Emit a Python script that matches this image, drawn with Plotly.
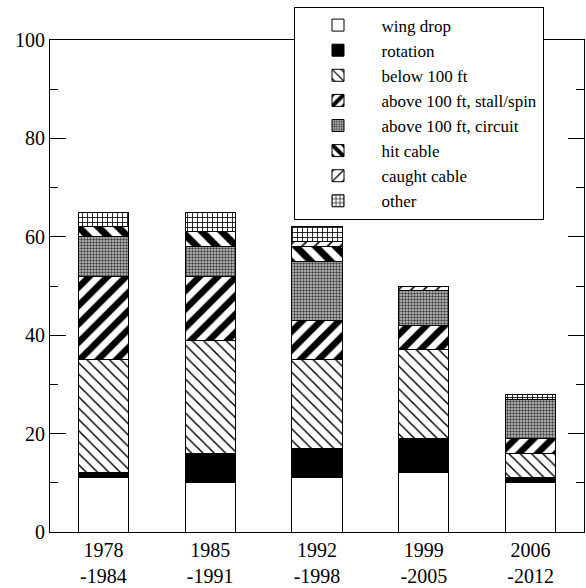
import plotly.graph_objects as go

# Accident counts by period and cause category (stacked)
periods = ["1978<br>-1984", "1985<br>-1991", "1992<br>-1998", "1999<br>-2005", "2006<br>-2012"]

wing_drop = [11, 10, 11, 12, 10]
rotation = [1, 6, 6, 7, 1]
below_100ft = [23, 23, 18, 18, 5]
above_100ft_stall = [17, 13, 8, 5, 3]
above_100ft_circuit = [8, 6, 12, 7, 8]
hit_cable = [2, 3, 3, 0, 0]
caught_cable = [0, 0, 1, 1, 0]
other = [3, 4, 3, 0, 1]


def hatch(shape, size, solidity, fg="black", bg="white"):
    return dict(color=bg, pattern=dict(shape=shape, fgcolor=fg, bgcolor=bg, size=size,
                                       solidity=solidity, fgopacity=1, fillmode="replace"))


series = [
    ("wing drop", wing_drop, dict(color="white")),
    ("rotation", rotation, dict(color="black")),
    ("below 100 ft", below_100ft, hatch("\\", 8, 0.18)),
    ("above 100 ft, stall/spin", above_100ft_stall, hatch("/", 13, 0.5)),
    ("above 100 ft, circuit", above_100ft_circuit, hatch(".", 3, 0.5, fg="#404040", bg="#c8c8c8")),
    ("hit cable", hit_cable, hatch("\\", 14, 0.5)),
    ("caught cable", caught_cable, hatch("/", 9, 0.18)),
    ("other", other, hatch("+", 5, 0.3)),
]

fig = go.Figure()
for name, vals, marker in series:
    marker = dict(marker)
    marker["line"] = dict(color="black", width=1)
    fig.add_trace(go.Bar(x=periods, y=vals, name=name, marker=marker, width=0.47))

serif = "Liberation Serif"
font = dict(family=serif, color="black", size=20)

fig.update_layout(
    barmode="stack",
    width=586,
    height=588,
    margin=dict(l=50, r=1, t=40, b=51),
    paper_bgcolor="white",
    plot_bgcolor="white",
    font=font,
    showlegend=True,
    legend=dict(
        x=0.456, y=1.068, xanchor="left", yanchor="top",
        traceorder="normal",
        bgcolor="white", bordercolor="black", borderwidth=1,
        font=dict(family=serif, size=17, color="black"),
        tracegroupgap=0,
        itemwidth=77,
    ),
    xaxis=dict(
        range=[-0.5, 4.5],
        showline=True, linecolor="black", linewidth=1, mirror=True,
        ticks="", showgrid=False, zeroline=False,
        tickfont=dict(family=serif, size=20, color="black"),
    ),
    yaxis=dict(
        range=[0, 100],
        tickvals=[0, 20, 40, 60, 80, 100],
        showline=True, linecolor="black", linewidth=1, mirror="ticks",
        ticks="inside", ticklen=16, tickwidth=1, tickcolor="black",
        minor=dict(ticks="inside", ticklen=8, dtick=10, tickcolor="black", showgrid=False),
        showgrid=False, zeroline=False,
        tickfont=dict(family=serif, size=20, color="black"),
    ),
)

fig.write_html("out.html")
